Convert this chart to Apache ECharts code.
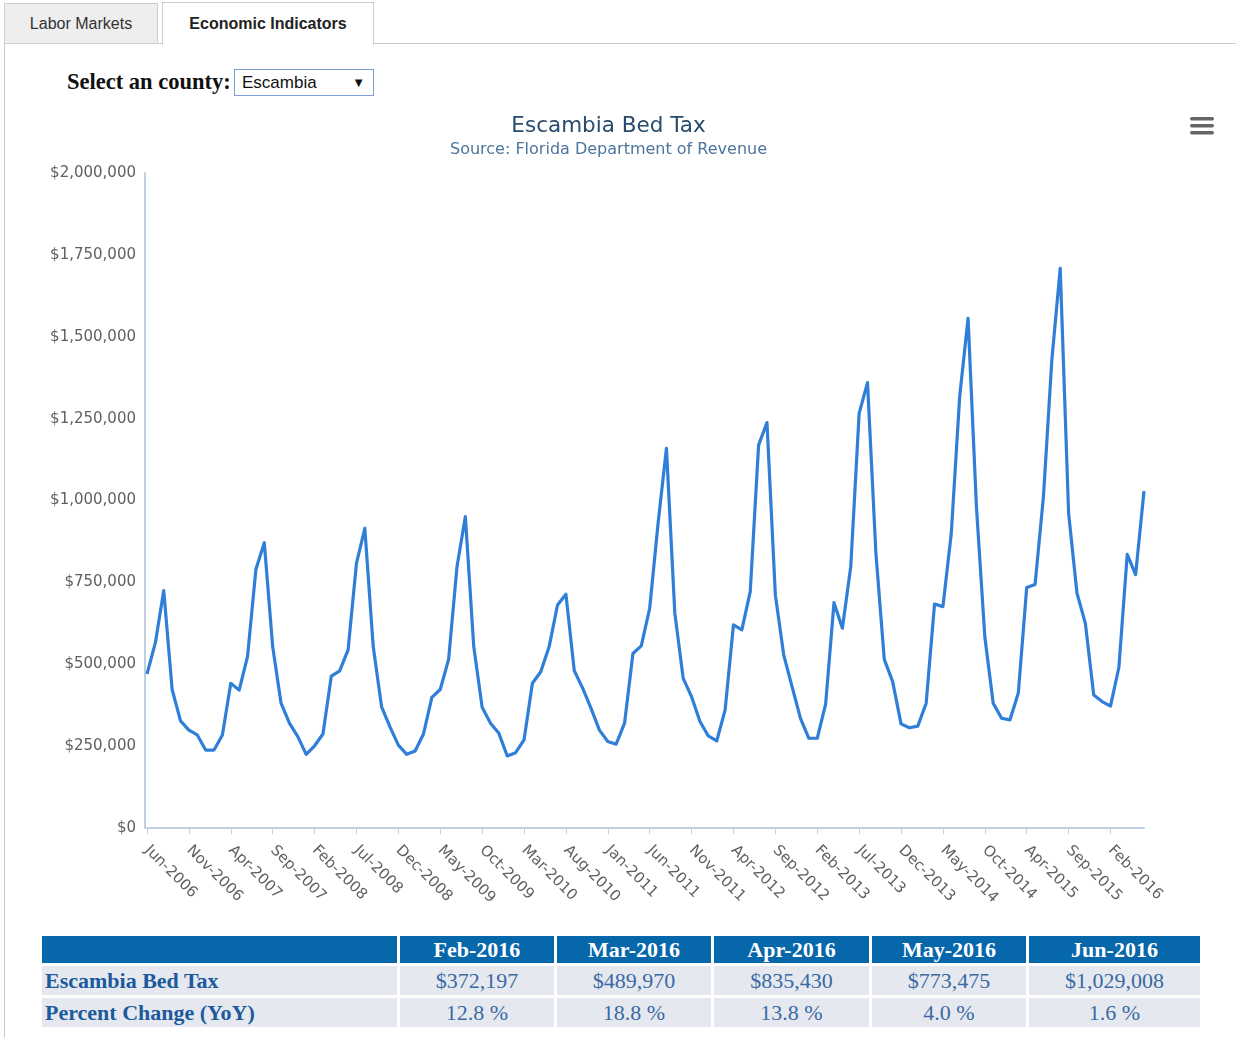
<!DOCTYPE html>
<html>
<head>
<meta charset="utf-8">
<title>Escambia Bed Tax</title>
<script src="https://cdn.jsdelivr.net/npm/echarts@6/dist/echarts.min.js"></script>
<style>
  body { margin: 0; background: #fff; width: 1236px; height: 1038px; position: relative; overflow: hidden; font-family: "Liberation Sans", Arial, sans-serif; }
  .tabline { position: absolute; left: 4px; top: 43px; width: 1232px; height: 0; border-top: 1px solid #ccc; }
  .panel-left { position: absolute; left: 4px; top: 43px; width: 0; height: 1000px; border-left: 1px solid #ccc; }
  .tab { position: absolute; box-sizing: border-box; border: 1px solid #ccc; text-align: center; font-size: 16px; }
  .tab-labor { left: 4px; top: 3px; width: 154px; height: 41px; line-height: 39px; background: #eee; color: #333; }
  .tab-econ { left: 162px; top: 2px; width: 212px; height: 43px; line-height: 41px; background: #fff; border-bottom: none; color: #222; font-weight: bold; }
  .county { position: absolute; left: 67px; top: 68px; font-family: "Liberation Serif", "Times New Roman", serif; font-weight: bold; font-size: 22.5px; line-height: 27px; color: #111; }
  .select { position: absolute; left: 234px; top: 69px; width: 140px; height: 27px; box-sizing: border-box; border: 1px solid #7f9fd6; font-size: 17px; line-height: 25px; padding-left: 7px; color: #111; }
  .select .arrow { position: absolute; right: 8px; top: 0; font-size: 13px; }
  #chart { position: absolute; left: 0; top: 100px; width: 1217px; height: 820px; }
  table.stats { position: absolute; left: 39px; top: 933px; border-collapse: separate; border-spacing: 3px; table-layout: fixed; font-family: "Liberation Serif", "Times New Roman", serif; font-size: 22px; }
  table.stats th { background: #0767ab; color: #fff; font-weight: bold; height: 27px; padding: 0; text-align: center; line-height: 27px; }
  table.stats td { background: #e5e9ef; color: #3a69a3; height: 29px; padding: 0; text-align: center; line-height: 29px; }
  table.stats td.lbl { color: #1d5a9d; font-weight: bold; text-align: left; padding-left: 3px; }
</style>
</head>
<body>
<div class="tabline"></div>
<div class="panel-left"></div>
<div class="tab tab-labor">Labor Markets</div>
<div class="tab tab-econ">Economic Indicators</div>
<div class="county">Select an county:</div>
<div class="select">Escambia<span class="arrow">&#9660;</span></div>
<div id="chart"></div>
<table class="stats" id="stats">
  <colgroup><col style="width:355px"><col style="width:154px"><col style="width:154px"><col style="width:155px"><col style="width:154px"><col style="width:171px"></colgroup>
  <thead><tr id="headRow"><th></th></tr></thead>
  <tbody>
    <tr id="taxRow"><td class="lbl">Escambia Bed Tax</td></tr>
    <tr id="pctRow"><td class="lbl">Percent Change (YoY)</td></tr>
  </tbody>
</table>
<script>
  // months Jun-2006 .. Jun-2016 (Nov-2014 is absent from the source data)
  const months2006 = ['Jun-2006', 'Jul-2006', 'Aug-2006', 'Sep-2006', 'Oct-2006', 'Nov-2006', 'Dec-2006'];
  const months2007 = ['Jan-2007', 'Feb-2007', 'Mar-2007', 'Apr-2007', 'May-2007', 'Jun-2007', 'Jul-2007', 'Aug-2007', 'Sep-2007', 'Oct-2007', 'Nov-2007', 'Dec-2007'];
  const months2008 = ['Jan-2008', 'Feb-2008', 'Mar-2008', 'Apr-2008', 'May-2008', 'Jun-2008', 'Jul-2008', 'Aug-2008', 'Sep-2008', 'Oct-2008', 'Nov-2008', 'Dec-2008'];
  const months2009 = ['Jan-2009', 'Feb-2009', 'Mar-2009', 'Apr-2009', 'May-2009', 'Jun-2009', 'Jul-2009', 'Aug-2009', 'Sep-2009', 'Oct-2009', 'Nov-2009', 'Dec-2009'];
  const months2010 = ['Jan-2010', 'Feb-2010', 'Mar-2010', 'Apr-2010', 'May-2010', 'Jun-2010', 'Jul-2010', 'Aug-2010', 'Sep-2010', 'Oct-2010', 'Nov-2010', 'Dec-2010'];
  const months2011 = ['Jan-2011', 'Feb-2011', 'Mar-2011', 'Apr-2011', 'May-2011', 'Jun-2011', 'Jul-2011', 'Aug-2011', 'Sep-2011', 'Oct-2011', 'Nov-2011', 'Dec-2011'];
  const months2012 = ['Jan-2012', 'Feb-2012', 'Mar-2012', 'Apr-2012', 'May-2012', 'Jun-2012', 'Jul-2012', 'Aug-2012', 'Sep-2012', 'Oct-2012', 'Nov-2012', 'Dec-2012'];
  const months2013 = ['Jan-2013', 'Feb-2013', 'Mar-2013', 'Apr-2013', 'May-2013', 'Jun-2013', 'Jul-2013', 'Aug-2013', 'Sep-2013', 'Oct-2013', 'Nov-2013', 'Dec-2013'];
  const months2014 = ['Jan-2014', 'Feb-2014', 'Mar-2014', 'Apr-2014', 'May-2014', 'Jun-2014', 'Jul-2014', 'Aug-2014', 'Sep-2014', 'Oct-2014', 'Dec-2014'];
  const months2015 = ['Jan-2015', 'Feb-2015', 'Mar-2015', 'Apr-2015', 'May-2015', 'Jun-2015', 'Jul-2015', 'Aug-2015', 'Sep-2015', 'Oct-2015', 'Nov-2015', 'Dec-2015'];
  const months2016 = ['Jan-2016', 'Feb-2016', 'Mar-2016', 'Apr-2016', 'May-2016', 'Jun-2016'];

  const bedTax2006 = [470000, 566000, 725000, 423000, 327000, 299000, 284000];
  const bedTax2007 = [238000, 238000, 284000, 442000, 421000, 523000, 790000, 871000, 554000, 381000, 320000, 279000];
  const bedTax2008 = [225000, 251000, 287000, 464000, 480000, 544000, 808000, 915000, 554000, 370000, 309000, 253000];
  const bedTax2009 = [225000, 235000, 287000, 399000, 423000, 515000, 798000, 951000, 554000, 369000, 320000, 289000];
  const bedTax2010 = [220000, 230000, 269000, 442000, 477000, 554000, 681000, 714000, 480000, 427000, 365000, 299000];
  const bedTax2011 = [264000, 256000, 320000, 533000, 556000, 671000, 930000, 1159000, 656000, 457000, 401000, 325000];
  const bedTax2012 = [281000, 266000, 360000, 620000, 605000, 722000, 1169000, 1238000, 711000, 528000, 431000, 335000];
  const bedTax2013 = [274000, 274000, 378000, 688000, 610000, 798000, 1266000, 1360000, 839000, 515000, 447000, 318000];
  const bedTax2014 = [306000, 311000, 381000, 684000, 676000, 900000, 1317000, 1556000, 981000, 584000, 381000];
  const bedTax2015 = [335000, 329962, 412432, 734121, 743726, 1012803, 1429000, 1709000, 961000, 717000, 625000, 406000];
  const bedTax2016 = [386000, 372197, 489970, 835430, 773475, 1029008];

  // summary table below the chart
  const tableMonths = ['Feb-2016', 'Mar-2016', 'Apr-2016', 'May-2016', 'Jun-2016'];
  const tableValues = [372197, 489970, 835430, 773475, 1029008];
  const tableYoY = [12.8, 18.8, 13.8, 4.0, 1.6];

  const yTicks = [0, 250000, 500000, 750000, 1000000, 1250000, 1500000, 1750000, 2000000];

  const categories = [].concat(months2006, months2007, months2008, months2009, months2010, months2011,
    months2012, months2013, months2014, months2015, months2016);
  const bedTax = [].concat(bedTax2006, bedTax2007, bedTax2008, bedTax2009, bedTax2010, bedTax2011,
    bedTax2012, bedTax2013, bedTax2014, bedTax2015, bedTax2016);

  function money(v) {
    return '$' + v.toLocaleString('en-US');
  }

  // fill the table
  let headRow = document.getElementById('headRow');
  let taxRow = document.getElementById('taxRow');
  let pctRow = document.getElementById('pctRow');
  tableMonths.forEach(function (m, i) {
    let th = document.createElement('th');
    th.textContent = m;
    headRow.appendChild(th);
    let td = document.createElement('td');
    td.textContent = money(tableValues[i]);
    taxRow.appendChild(td);
    let tp = document.createElement('td');
    tp.textContent = tableYoY[i].toFixed(1) + ' %';
    pctRow.appendChild(tp);
  });

  const axisColor = '#C0D0E0';
  const labelColor = '#606060';
  const chartFont = '"DejaVu Sans", Verdana, sans-serif';

  let option = {
    animation: false,
    textStyle: { fontFamily: chartFont },
    title: {
      text: 'Escambia Bed Tax',
      subtext: 'Source: Florida Department of Revenue',
      left: 'center',
      top: 15,
      padding: 0,
      itemGap: 5,
      textStyle: { fontFamily: chartFont, fontSize: 21.5, fontWeight: 'normal', color: '#274b6d' },
      subtextStyle: { fontFamily: chartFont, fontSize: 16, color: '#4d759e' }
    },
    grid: {
      left: 147,
      top: 73,
      width: 997,
      height: 655
    },
    xAxis: {
      type: 'category',
      data: categories,
      boundaryGap: false,
      axisLine: { lineStyle: { color: axisColor, width: 2 } },
      axisTick: { show: true, interval: 4, length: 6, lineStyle: { color: axisColor, width: 1 } },
      axisLabel: {
        interval: 4,
        rotate: -45,
        margin: 20,
        color: labelColor,
        fontSize: 15,
        fontFamily: chartFont
      },
      splitLine: { show: false }
    },
    yAxis: {
      type: 'value',
      min: yTicks[0],
      max: yTicks[yTicks.length - 1],
      interval: yTicks[1] - yTicks[0],
      offset: 2,
      axisLine: { show: true, lineStyle: { color: axisColor, width: 2 } },
      axisTick: { show: false },
      splitLine: { show: false },
      axisLabel: {
        margin: 9,
        color: labelColor,
        fontSize: 15,
        fontFamily: chartFont,
        formatter: function (v) { return money(v); }
      }
    },
    series: [
      {
        name: 'Escambia Bed Tax',
        type: 'line',
        data: bedTax,
        showSymbol: false,
        symbol: 'none',
        lineStyle: { color: '#2f7ed8', width: 3.2, join: 'round' },
        itemStyle: { color: '#2f7ed8' }
      }
    ],
    graphic: [
      { type: 'rect', shape: { x: 1190, y: 17, width: 24, height: 3.5, r: 1.7 }, style: { fill: '#666' } },
      { type: 'rect', shape: { x: 1190, y: 24, width: 24, height: 3.5, r: 1.7 }, style: { fill: '#666' } },
      { type: 'rect', shape: { x: 1190, y: 31, width: 24, height: 3.5, r: 1.7 }, style: { fill: '#666' } }
    ]
  };

  let chartDom = document.getElementById('chart');
  if (chartDom) {
    let myChart = echarts.init(chartDom);
    option && myChart.setOption(option);
  }
</script>
</body>
</html>
